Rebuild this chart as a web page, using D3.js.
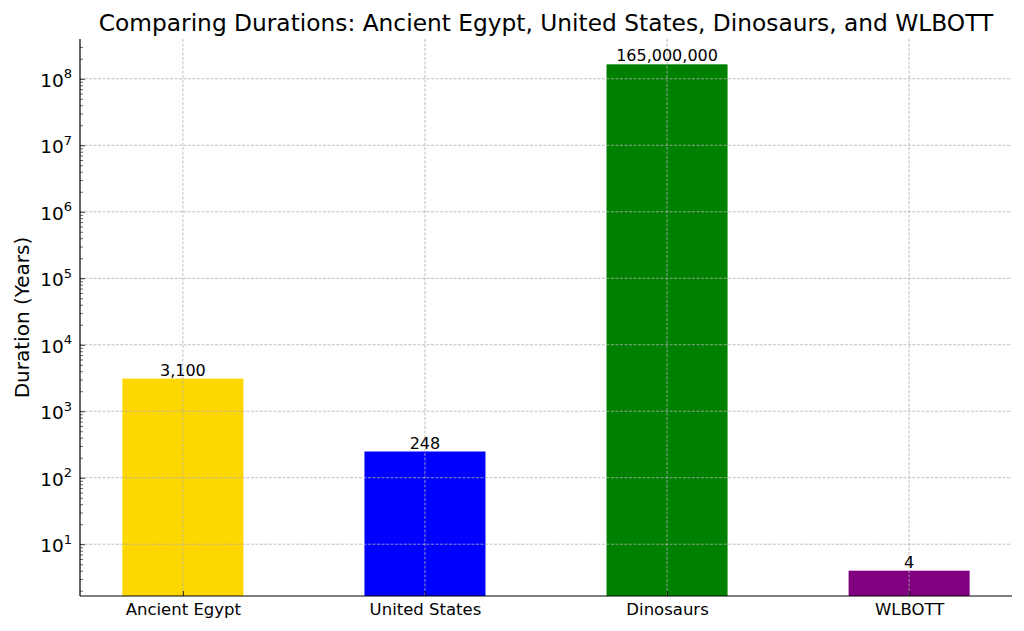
<!DOCTYPE html>
<html>
<head>
<meta charset="UTF-8">
<script src="https://d3js.org/d3.v7.min.js"></script>
<title>Comparing Durations</title>
<style>
  body { margin: 0; background: #fff; }
  text { font-family: "DejaVu Sans", sans-serif; fill: #000; }
</style>
</head>
<body>
<svg></svg>
<script>
// data
const categories = ["Ancient Egypt", "United States", "Dinosaurs", "WLBOTT"];
const durations = [3100, 248, 165000000, 4];
const barColors = ["#FFD700", "#0000FF", "#008000", "#800080"];
const decades = [1, 2, 3, 4, 5, 6, 7, 8];

const width = 1024, height = 631;
const margin = {top: 39, right: 12, bottom: 35, left: 80};

const svg = d3.select("svg")
  .attr("width", width)
  .attr("height", height);

// x: matplotlib style continuous positions, bar width 0.5
const x = d3.scaleLinear()
  .domain([-0.425, 3.425])
  .range([margin.left, width - margin.right]);

// y log, domain padded by 5% in log space
const lo = Math.log10(d3.min(durations)), hi = Math.log10(d3.max(durations));
const pad = (hi - lo) * 0.05;
const y = d3.scaleLog()
  .domain([Math.pow(10, lo - pad), Math.pow(10, hi + pad)])
  .range([height - margin.bottom, margin.top]);

const y0 = y.range()[0];

// bars
svg.append("g")
  .selectAll("rect")
  .data(durations)
  .join("rect")
    .attr("x", (d, i) => x(i - 0.25))
    .attr("width", x(0.25) - x(-0.25))
    .attr("y", d => y(d))
    .attr("height", d => y0 - y(d))
    .attr("fill", (d, i) => barColors[i]);

// grid on top
const grid = svg.append("g")
  .attr("stroke", "#b0b0b0")
  .attr("stroke-width", 0.8)
  .attr("stroke-dasharray", "3,1.5");

grid.selectAll(".hg")
  .data(decades.map(e => Math.pow(10, e)))
  .join("line")
    .attr("x1", margin.left).attr("x2", width - margin.right)
    .attr("y1", d => y(d)).attr("y2", d => y(d));

grid.selectAll(".vg")
  .data(categories)
  .join("line")
    .attr("x1", (d, i) => x(i)).attr("x2", (d, i) => x(i))
    .attr("y1", margin.top).attr("y2", y0);

// y axis
const minor = [];
for (let e = 0; e <= 8; e++) {
  for (let m = 2; m <= 9; m++) {
    const v = m * Math.pow(10, e);
    if (v >= y.domain()[0] && v <= y.domain()[1]) minor.push(v);
  }
}

const yAxis = svg.append("g")
  .attr("transform", `translate(${margin.left},0)`);

yAxis.append("g")
  .call(d3.axisLeft(y).tickValues(minor).tickSize(-3).tickFormat(""))
  .call(g => g.select(".domain").remove())
  .call(g => g.selectAll(".tick line").attr("stroke", "#000").attr("stroke-width", 0.6));

yAxis.append("g")
  .call(d3.axisLeft(y).tickValues(decades.map(e => Math.pow(10, e))).tickSize(-5).tickFormat(""))
  .call(g => g.select(".domain").remove())
  .call(g => g.selectAll(".tick line").attr("stroke", "#000").attr("stroke-width", 0.8));

yAxis.selectAll(".ylab")
  .data(decades)
  .join("text")
    .attr("x", -8)
    .attr("y", d => y(Math.pow(10, d)) + 8)
    .attr("text-anchor", "end")
    .attr("font-size", 18.5)
    .call(t => t.append("tspan").text("10"))
    .call(t => t.append("tspan")
      .attr("dy", -8.5)
      .attr("font-size", 13)
      .text(d => d));

yAxis.append("line")
  .attr("y1", margin.top).attr("y2", y0)
  .attr("stroke", "#000").attr("stroke-width", 1.2);

// x axis
const xAxis = svg.append("g")
  .attr("transform", `translate(0,${y0})`);

xAxis.call(d3.axisBottom(x).tickValues(d3.range(categories.length))
    .tickSize(-5).tickPadding(7).tickFormat(i => categories[i]))
  .call(g => g.select(".domain").remove())
  .call(g => g.selectAll(".tick line").attr("stroke", "#000").attr("stroke-width", 0.8))
  .call(g => g.selectAll(".tick text")
    .attr("font-size", 16.5)
    .attr("font-family", "DejaVu Sans, sans-serif")
    .attr("fill", "#000"));

xAxis.append("line")
  .attr("x1", margin.left).attr("x2", width - margin.right)
  .attr("stroke", "#000").attr("stroke-width", 1.2);

// value labels
svg.append("g")
  .selectAll("text")
  .data(durations)
  .join("text")
    .attr("x", (d, i) => x(i))
    .attr("y", d => y(d) - 3)
    .attr("text-anchor", "middle")
    .attr("font-size", 16)
    .text(d => d3.format(",")(d));

// titles
svg.append("text")
  .attr("x", (margin.left + width - margin.right) / 2)
  .attr("y", 31)
  .attr("text-anchor", "middle")
  .attr("font-size", 23.3)
  .text("Comparing Durations: Ancient Egypt, United States, Dinosaurs, and WLBOTT");

svg.append("text")
  .attr("transform", `translate(29,${(margin.top + y0) / 2}) rotate(-90)`)
  .attr("text-anchor", "middle")
  .attr("font-size", 20)
  .text("Duration (Years)");
</script>
</body>
</html>
